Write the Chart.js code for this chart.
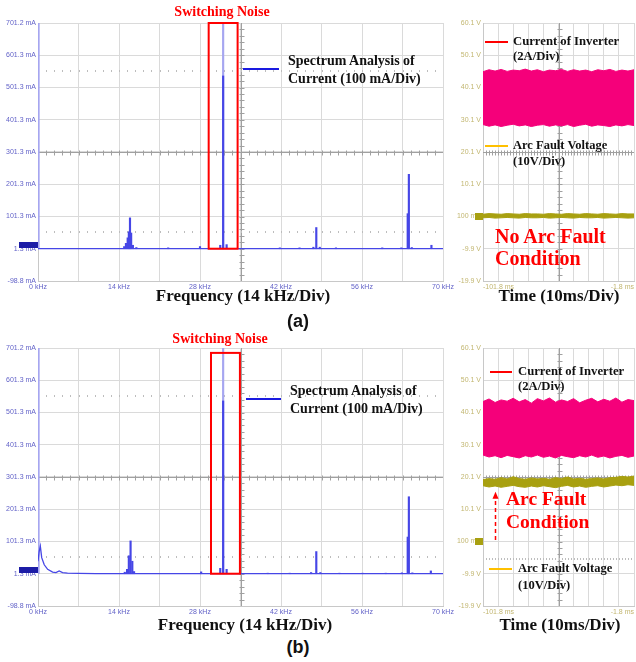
<!DOCTYPE html>
<html>
<head>
<meta charset="utf-8">
<script src="https://cdn.jsdelivr.net/npm/chart.js@4"></script>
<style>
body { margin: 0; background: #fff; }
#fig { position: relative; width: 636px; height: 662px; overflow: hidden; }
canvas { position: absolute; }
.t { position: absolute; font-family: "Liberation Serif", "Times New Roman", serif; font-weight: bold; white-space: nowrap; color: #111; }
.red { color: #ff0000; }
.c { transform: translateX(-50%); }
.key { position: absolute; height: 2px; }
.lab { position: absolute; font-family: "Liberation Sans", Arial, sans-serif; font-weight: bold; font-size: 18px; line-height: 1; transform: translateX(-50%); color: #111; }
</style>
</head>
<body>
<div id="fig">
  <canvas id="specA" width="456" height="295" style="left:0;top:0"></canvas>
  <canvas id="timeA" width="196" height="295" style="left:440px;top:0"></canvas>
  <canvas id="specB" width="456" height="295" style="left:0;top:325px"></canvas>
  <canvas id="timeB" width="196" height="295" style="left:440px;top:325px"></canvas>

  <!-- (a) -->
  <div class="t red c" style="left:222px;top:5px;font-size:14px;line-height:1">Switching Noise</div>
  <div class="key" style="left:243px;top:68px;width:36px;background:#1a1ae0"></div>
  <div class="t" style="left:288px;top:52px;font-size:14px;line-height:18px">Spectrum Analysis of<br>Current (100 mA/Div)</div>
  <div class="key" style="left:485px;top:41px;width:23px;background:#ff0000"></div>
  <div class="t" style="left:513px;top:34px;font-size:12.7px;line-height:15px">Current of Inverter<br>(2A/Div)</div>
  <div class="key" style="left:485px;top:145px;width:23px;background:#ffc000"></div>
  <div class="t" style="left:513px;top:137px;font-size:12.5px;line-height:16px">Arc Fault Voltage<br>(10V/Div)</div>
  <div class="t red" style="left:495px;top:225px;font-size:20px;line-height:22px">No Arc Fault<br>Condition</div>
  <div class="t c" style="left:243px;top:287px;font-size:17px;line-height:1">Frequency (14 kHz/Div)</div>
  <div class="t c" style="left:559px;top:287px;font-size:17px;line-height:1">Time (10ms/Div)</div>
  <div class="lab" style="left:298px;top:312px">(a)</div>

  <!-- (b) -->
  <div class="t red c" style="left:220px;top:332px;font-size:14px;line-height:1">Switching Noise</div>
  <div class="key" style="left:246px;top:398px;width:35px;background:#1a1ae0"></div>
  <div class="t" style="left:290px;top:382px;font-size:14px;line-height:18px">Spectrum Analysis of<br>Current (100 mA/Div)</div>
  <div class="key" style="left:490px;top:371px;width:22px;background:#ff0000"></div>
  <div class="t" style="left:518px;top:364px;font-size:12.7px;line-height:15px">Current of Inverter<br>(2A/Div)</div>
  <div class="t red" style="left:506px;top:487px;font-size:19.5px;line-height:23px">Arc Fault<br>Condition</div>
  <div class="key" style="left:489px;top:568px;width:23px;background:#ffc000"></div>
  <div class="t" style="left:518px;top:560px;font-size:12.5px;line-height:17px">Arc Fault Voltage<br>(10V/Div)</div>
  <div class="t c" style="left:245px;top:616px;font-size:17px;line-height:1">Frequency (14 kHz/Div)</div>
  <div class="t c" style="left:560px;top:616px;font-size:17px;line-height:1">Time (10ms/Div)</div>
  <div class="lab" style="left:298px;top:638px">(b)</div>
</div>
<script>
// spectrum axes
const kHzTicks = [0, 7, 14, 21, 28, 35, 42, 49, 56, 63, 70];
const kHzLabels = ['0 kHz', '', '14 kHz', '', '28 kHz', '', '42 kHz', '', '56 kHz', '', '70 kHz'];
const mATicks = [-98.8, 1.3, 101.3, 201.3, 301.3, 401.3, 501.3, 601.3, 701.2];
const mALabels = ['-98.8 mA', '1.3 mA', '101.3 mA', '201.3 mA', '301.3 mA', '401.3 mA', '501.3 mA', '601.3 mA', '701.2 mA'];

// time axes
const msTicks = [-101.8, -91.8, -81.8, -71.8, -61.8, -51.8, -41.8, -31.8, -21.8, -11.8, -1.8];
const msLabels = ['-101.8 ms', '', '', '', '', '', '', '', '', '', '-1.8 ms'];
const vTicks = [-19.9, -9.9, 0.1, 10.1, 20.1, 30.1, 40.1, 50.1, 60.1];
const vLabels = ['-19.9 V', '-9.9 V', '100 mV', '10.1 V', '20.1 V', '30.1 V', '40.1 V', '50.1 V', '60.1 V'];

// (a) spectrum, no arc fault
const spikeFreqA = [14.9, 15.2, 15.5, 15.7, 15.9, 16.1, 16.4, 17.0, 22.5, 28.0, 31.5, 32.0, 32.6, 41.8, 45.2, 47.6, 48.1, 48.7, 51.5, 59.5, 62.8, 63.9, 64.1, 64.6, 68.0];
const spikeAmpA = [8, 18, 35, 54, 97, 50, 12, 5, 4, 8, 12, 537, 14, 4, 4, 6, 67, 6, 4, 4, 4, 110, 232, 5, 12];
const clipFreqA = [0.1, 32.0];
const clipAmpA = [701.2, 701.2];
const baseFreqA = [0, 70];
const baseAmpA = [1.3, 1.3];
const noiseBoxA = [29.5, 34.5, 1.3, 701.2];

// (b) spectrum, arc fault
const spikeFreqB = [15.0, 15.4, 15.7, 16.0, 16.3, 16.6, 28.2, 31.5, 32.0, 32.6, 39.7, 43.5, 47.2, 48.1, 48.8, 52.1, 56.1, 60.1, 62.9, 63.9, 64.1, 64.7, 67.9];
const spikeAmpB = [6, 15, 57, 103, 40, 8, 7, 18, 537, 15, 3, 3, 5, 70, 5, 3, 3, 3, 4, 115, 240, 4, 10];
const clipFreqB = [0.1, 32.0];
const clipAmpB = [701.2, 701.2];
const baseFreqB = [0, 0.2, 0.4, 0.64, 1.08, 1.67, 2.53, 3.1, 3.66, 4.25, 5.1, 7, 10, 70];
const baseAmpB = [40, 70, 87, 51, 29, 15, 6.5, 5, 10, 5, 3, 2.5, 1.8, 1.3];
const noiseBoxB = [29.9, 34.9, 1.3, 686];

// time traces (envelopes of the inverter current and the arc voltage)
const timeMs = [-101.8, -97.8, -93.8, -89.8, -85.8, -81.8, -77.8, -73.8, -69.8, -65.8, -61.8, -57.8, -53.8, -49.8, -45.8, -41.8, -37.8, -33.8, -29.8, -25.8, -21.8, -17.8, -13.8, -9.8, -5.8, -1.8];
const currTopA = [45.0, 45.6, 45.2, 45.7, 45.1, 45.5, 45.3, 45.8, 45.2, 45.6, 45.0, 45.5, 45.3, 45.7, 45.1, 45.6, 45.2, 45.5, 45.0, 45.6, 45.3, 45.7, 45.1, 45.5, 45.2, 45.6];
const currBotA = [28.6, 28.1, 28.5, 28.0, 28.4, 28.7, 28.2, 28.5, 28.0, 28.4, 28.6, 28.1, 28.5, 28.2, 28.6, 28.0, 28.4, 28.7, 28.1, 28.5, 28.3, 28.0, 28.5, 28.2, 28.6, 28.3];
const arcTopA = [0.8, 1.0, 0.9, 0.8, 1.0, 0.9, 0.8, 1.0, 0.9, 0.9, 0.8, 1.0, 0.9, 0.8, 1.0, 0.9, 0.8, 1.0, 0.9, 0.8, 1.0, 0.9, 0.8, 1.0, 0.9, 0.9];
const arcBotA = [-0.3, -0.2, -0.4, -0.3, -0.2, -0.3, -0.4, -0.2, -0.3, -0.3, -0.2, -0.4, -0.3, -0.2, -0.3, -0.4, -0.2, -0.3, -0.3, -0.2, -0.4, -0.3, -0.2, -0.3, -0.4, -0.3];
const currTopB = [43.5, 44.3, 43.2, 44.0, 43.6, 44.5, 43.4, 44.1, 43.0, 44.4, 43.7, 44.6, 43.3, 44.0, 43.5, 44.4, 43.1, 43.9, 44.5, 43.4, 44.2, 43.6, 44.6, 43.3, 44.1, 43.8];
const currBotB = [26.9, 26.3, 26.7, 26.1, 26.8, 26.4, 26.0, 26.7, 26.3, 26.9, 26.2, 26.6, 26.0, 26.8, 26.4, 26.1, 26.7, 26.3, 26.9, 26.2, 26.6, 26.0, 26.5, 26.8, 26.2, 26.6];
const arcTopB = [19.3, 19.6, 19.4, 19.9, 19.5, 20.2, 19.6, 19.4, 19.8, 19.5, 19.7, 19.4, 19.9, 19.6, 20.1, 19.5, 19.7, 19.4, 19.6, 19.8, 19.5, 19.9, 20.0, 20.3, 20.1, 20.4];
const arcBotB = [17.4, 17.0, 17.3, 16.9, 17.2, 17.5, 17.1, 16.9, 17.3, 17.0, 17.4, 17.1, 16.8, 17.2, 17.5, 17.0, 17.3, 16.9, 17.2, 17.4, 17.0, 17.3, 17.6, 17.4, 17.7, 17.5];
const arcArrowB = [-93.9, 0.6, 15.5];

const blue = '#4646e6';
const pink = '#f5007a';
const olive = '#a8a010';
const gridColor = '#dadada';

Chart.defaults.font.family = '"Liberation Sans", Arial, sans-serif';

// scope look: centre cross with small ticks, dotted cursors, channel marker, red box, arrow
const scopeDecor = {
    id: 'scopeDecor',
    beforeDatasetsDraw(chart, args, o) {
        const { ctx, chartArea: a } = chart;
        const x = chart.scales.x, y = chart.scales.y;
        const dx = (a.right - a.left) / 50, dy = (a.bottom - a.top) / 40;
        const cx = Math.round(x.getPixelForValue(o.centre[0])) + 0.5;
        const cy = Math.round(y.getPixelForValue(o.centre[1])) + 0.5;
        ctx.save();
        ctx.strokeStyle = '#a0a0a0';
        ctx.lineWidth = 1;
        ctx.beginPath();
        ctx.moveTo(a.left, cy); ctx.lineTo(a.right, cy);
        ctx.moveTo(cx, a.top); ctx.lineTo(cx, a.bottom);
        for (let i = 1; i < 50; i++) {
            const px = Math.round(a.left + i * dx) + 0.5;
            ctx.moveTo(px, cy - 2); ctx.lineTo(px, cy + 3);
        }
        for (let j = 1; j < 40; j++) {
            const py = Math.round(a.top + j * dy) + 0.5;
            ctx.moveTo(cx - 2, py); ctx.lineTo(cx + 3, py);
        }
        ctx.stroke();
        ctx.fillStyle = '#bdbdbd';
        (o.cursors || []).forEach(v => {
            const py = Math.round(y.getPixelForValue(v));
            for (let i = 1; i < 50; i++) ctx.fillRect(Math.round(a.left + i * dx), py - 1, 1, 2);
        });
        ctx.restore();
    },
    afterDatasetsDraw(chart, args, o) {
        const { ctx, chartArea: a } = chart;
        const x = chart.scales.x, y = chart.scales.y;
        ctx.save();
        if (o.marker) {
            const py = Math.round(y.getPixelForValue(o.marker.value));
            ctx.fillStyle = o.marker.color;
            ctx.fillRect(a.left - o.marker.w, py + o.marker.dy, o.marker.w, o.marker.h);
        }
        if (o.box) {
            const x0 = x.getPixelForValue(o.box[0]), x1 = x.getPixelForValue(o.box[1]);
            const y0 = y.getPixelForValue(o.box[2]), y1 = y.getPixelForValue(o.box[3]);
            ctx.strokeStyle = '#ff0000';
            ctx.lineWidth = 2;
            ctx.strokeRect(x0, y1, x1 - x0, y0 - y1);
        }
        if (o.arrow) {
            const px = Math.round(x.getPixelForValue(o.arrow[0])) + 0.5;
            const y0 = y.getPixelForValue(o.arrow[1]), y1 = y.getPixelForValue(o.arrow[2]);
            ctx.strokeStyle = '#ff0000';
            ctx.fillStyle = '#ff0000';
            ctx.lineWidth = 1.5;
            ctx.setLineDash([4, 3]);
            ctx.beginPath();
            ctx.moveTo(px, y0); ctx.lineTo(px, y1 + 5);
            ctx.stroke();
            ctx.setLineDash([]);
            ctx.beginPath();
            ctx.moveTo(px, y1); ctx.lineTo(px - 3, y1 + 7); ctx.lineTo(px + 3, y1 + 7);
            ctx.closePath();
            ctx.fill();
        }
        ctx.restore();
    }
};

function pairs(xs, ys) {
    return xs.map((v, i) => ({ x: v, y: ys[i] }));
}

function spectrum(id, spikeF, spikeA, clipF, clipA, baseF, baseA, box, cursors) {
    new Chart(document.getElementById(id), {
        type: 'bar',
        data: {
            datasets: [
                {
                    type: 'line',
                    data: pairs(baseF, baseA),
                    borderColor: blue,
                    borderWidth: 1.3,
                    pointRadius: 0,
                    tension: 0,
                    order: 0
                },
                {
                    data: spikeF.map((f, i) => ({ x: f, y: [1.3, spikeA[i]] })),
                    backgroundColor: blue,
                    barThickness: 1.5,
                    grouped: false,
                    order: 1
                },
                {
                    data: clipF.map((f, i) => ({ x: f, y: [1.3, clipA[i]] })),
                    backgroundColor: '#a6a6f0',
                    barThickness: 1.5,
                    grouped: false,
                    order: 2
                }
            ]
        },
        options: {
            responsive: false,
            animation: false,
            events: [],
            layout: { padding: { top: 23, right: 13, left: 0, bottom: 0 } },
            plugins: {
                legend: { display: false },
                tooltip: { enabled: false },
                scopeDecor: {
                    centre: [35, 301.3],
                    cursors: cursors,
                    marker: { value: 1.3, color: '#1c1ca6', w: 19, h: 6, dy: -7 },
                    box: box
                }
            },
            scales: {
                x: {
                    type: 'linear',
                    min: 0,
                    max: 70,
                    offset: false,
                    grid: { color: gridColor, drawTicks: false, offset: false },
                    border: { color: '#c8c8c8' },
                    ticks: {
                        autoSkip: false,
                        maxRotation: 0,
                        padding: 2,
                        color: '#6262c8',
                        font: { size: 7 },
                        callback: (v, i) => kHzLabels[i]
                    },
                    afterBuildTicks: (s) => { s.ticks = kHzTicks.map(v => ({ value: v })); },
                    afterFit: (s) => { s.height = 14; s.paddingLeft = 0; s.paddingRight = 0; }
                },
                y: {
                    min: -98.8,
                    max: 701.2,
                    grid: { color: gridColor, drawTicks: false },
                    border: { color: '#c8c8c8' },
                    ticks: {
                        padding: 2,
                        color: '#6262c8',
                        font: { size: 7 },
                        callback: (v, i) => mALabels[i]
                    },
                    afterBuildTicks: (s) => { s.ticks = mATicks.map(v => ({ value: v })); },
                    afterFit: (s) => { s.width = 38; s.paddingTop = 0; s.paddingBottom = 0; }
                }
            }
        },
        plugins: [scopeDecor]
    });
}

function scopeTime(id, cTop, cBot, vTop, vBot, cursors, arrow) {
    const trace = (ys, color, fill) => ({
        data: pairs(timeMs, ys),
        borderColor: color,
        backgroundColor: color,
        borderWidth: 1,
        pointRadius: 0,
        tension: 0,
        fill: fill
    });
    new Chart(document.getElementById(id), {
        type: 'line',
        data: {
            datasets: [
                trace(cTop, pink, '+1'),
                trace(cBot, pink, false),
                trace(vTop, olive, '+1'),
                trace(vBot, olive, false)
            ]
        },
        options: {
            responsive: false,
            animation: false,
            events: [],
            layout: { padding: { top: 23, right: 2, left: 0, bottom: 0 } },
            plugins: {
                legend: { display: false },
                tooltip: { enabled: false },
                scopeDecor: {
                    centre: [-51.8, 20.1],
                    cursors: cursors,
                    marker: { value: 0.1, color: olive, w: 8, h: 7, dy: -4 },
                    arrow: arrow
                }
            },
            scales: {
                x: {
                    type: 'linear',
                    min: -101.8,
                    max: -1.8,
                    grid: { color: gridColor, drawTicks: false },
                    border: { color: '#c8c8c8' },
                    ticks: {
                        autoSkip: false,
                        maxRotation: 0,
                        align: 'inner',
                        padding: 2,
                        color: '#c2b670',
                        font: { size: 7 },
                        callback: (v, i) => msLabels[i]
                    },
                    afterBuildTicks: (s) => { s.ticks = msTicks.map(v => ({ value: v })); },
                    afterFit: (s) => { s.height = 14; s.paddingLeft = 0; s.paddingRight = 0; }
                },
                y: {
                    min: -19.9,
                    max: 60.1,
                    grid: { color: gridColor, drawTicks: false },
                    border: { color: '#c8c8c8' },
                    ticks: {
                        padding: 2,
                        color: '#c2b670',
                        font: { size: 7 },
                        callback: (v, i) => vLabels[i]
                    },
                    afterBuildTicks: (s) => { s.ticks = vTicks.map(v => ({ value: v })); },
                    afterFit: (s) => { s.width = 43; s.paddingTop = 0; s.paddingBottom = 0; }
                }
            }
        },
        plugins: [scopeDecor]
    });
}

window.addEventListener('DOMContentLoaded', () => {
    spectrum('specA', spikeFreqA, spikeAmpA, clipFreqA, clipAmpA, baseFreqA, baseAmpA, noiseBoxA, [551.7, 54]);
    scopeTime('timeA', currTopA, currBotA, arcTopA, arcBotA, [], null);
    spectrum('specB', spikeFreqB, spikeAmpB, clipFreqB, clipAmpB, baseFreqB, baseAmpB, noiseBoxB, [552, 54]);
    scopeTime('timeB', currTopB, currBotB, arcTopB, arcBotB, [-5.4], arcArrowB);
});
</script>
</body>
</html>
